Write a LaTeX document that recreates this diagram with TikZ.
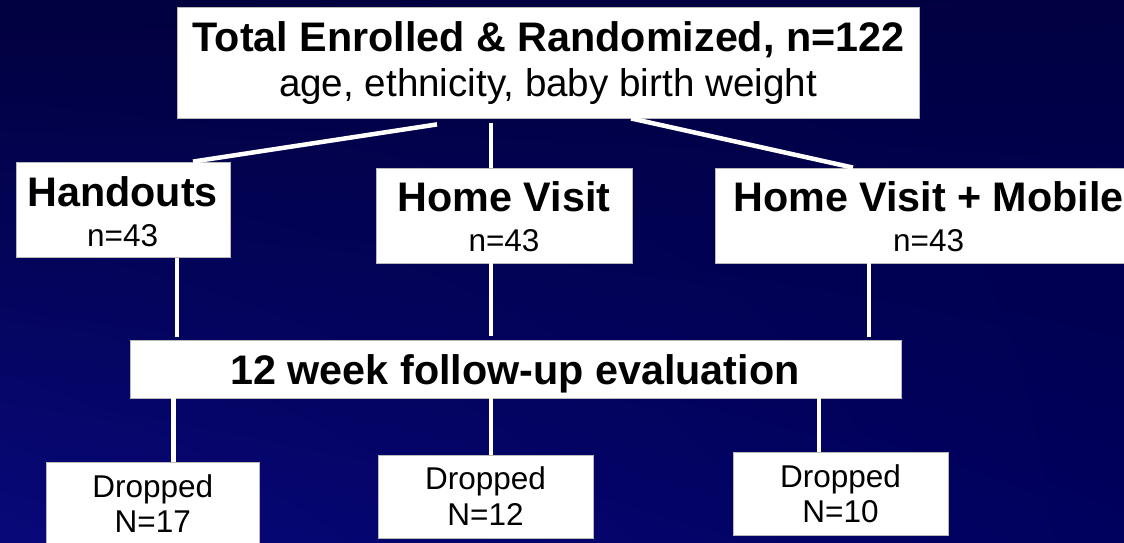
\documentclass[tikz,border=0pt]{standalone}
\usepackage{fontspec}
\usetikzlibrary{shadings}
\setmainfont{Liberation Sans}
\definecolor{bgtl}{HTML}{00003E}
\definecolor{bgtr}{HTML}{000042}
\definecolor{bgbl}{HTML}{08087A}
\definecolor{bgbr}{HTML}{00005E}
\tikzset{
  box/.style={draw=gray!55, line width=0.8pt, fill=white, inner sep=0pt},
  big/.style={font=\fontsize{41.3}{45}\selectfont\bfseries, inner sep=0pt, anchor=base, text=black},
  sub/.style={font=\fontsize{38.6}{45}\selectfont, inner sep=0pt, anchor=base, text=black},
  small/.style={font=\fontsize{31.5}{36}\selectfont, inner sep=0pt, anchor=base, text=black},
  link/.style={draw=white, line width=4.5pt}
}
\begin{document}
\begin{tikzpicture}[x=1pt, y=-1pt]
\shade[upper left=bgtl, upper right=bgtr, lower left=bgbl, lower right=bgbr] (0,0) rectangle (1124,542);
\useasboundingbox (0,0) rectangle (1124,542);
\begin{scope}
\clip (0,0) rectangle (1124,542);
% boxes
\node[box, minimum width=742pt, minimum height=111pt] (top) at (548,62.5) {};
\node[box, minimum width=214pt, minimum height=95.5pt] (hand) at (123,209.75) {};
\node[box, minimum width=256pt, minimum height=95pt] (hv) at (504,215.5) {};
\node[box, minimum width=427pt, minimum height=95pt] (hvm) at (928.5,215.5) {};
\node[box, minimum width=770.5pt, minimum height=57.5pt] (fu) at (515.75,369.25) {};
\node[box, minimum width=213.5pt, minimum height=83pt] (d1) at (152.75,504) {};
\node[box, minimum width=215pt, minimum height=83pt] (d2) at (485.5,496.5) {};
\node[box, minimum width=215pt, minimum height=83pt] (d3) at (840.5,493.5) {};
% texts
\node[big] (toptitle) at (548.5,51) {Total Enrolled \& Randomized, n=122};
\node[sub] (topsub) at (548,96) {age, ethnicity, baby birth weight};
\node[big] (handtitle) at (122.6,206) {Handouts};
\node[small] (handn) at (122.6,246) {n=43};
\node[big] (hvtitle) at (504,211.5) {Home Visit};
\node[small] (hvn) at (504,251.5) {n=43};
\node[big] (hvmtitle) at (928.5,211.5) {Home Visit + Mobile};
\node[small] (hvmn) at (928.7,251.5) {n=43};
\node[big] (futitle) at (515,384.4) {12 week follow-up evaluation};
\node[small] (d1a) at (152.75,497) {Dropped};
\node[small] (d1b) at (152.75,532) {N=17};
\node[small] (d2a) at (485.5,489) {Dropped};
\node[small] (d2b) at (485.5,525.5) {N=12};
\node[small] (d3a) at (840.5,487) {Dropped};
\node[small] (d3b) at (840.5,522.6) {N=10};
% connectors top -> arms
\draw[link] ([xshift=-111pt,yshift=-6pt]top.south) -- ([xshift=70pt]hand.north);
\draw[link] ([xshift=-57pt,yshift=-5pt]top.south) -- ([xshift=-13pt]hv.north);
\draw[link] ([xshift=83pt]top.south) -- ([xshift=-75.5pt]hvm.north);
% arms -> follow-up
\coordinate (a1) at ([xshift=54pt]hand.south);
\coordinate (a2) at ([xshift=-13pt]hv.south);
\coordinate (a3) at ([xshift=-59.5pt]hvm.south);
\draw[link] (a1) -- ([yshift=3pt]a1 |- fu.north);
\draw[link] (a2) -- ([yshift=4pt]a2 |- fu.north);
\draw[link] (a3) -- ([yshift=3pt]a3 |- fu.north);
% follow-up -> dropped
\coordinate (b1) at ([xshift=20.75pt]d1.north);
\coordinate (b2) at ([xshift=5.5pt]d2.north);
\coordinate (b3) at ([xshift=-21.5pt]d3.north);
\draw[link] (b1 |- fu.south) -- (b1);
\draw[link] (b2 |- fu.south) -- (b2);
\draw[link] (b3 |- fu.south) -- (b3);
\end{scope}
\end{tikzpicture}
\end{document}
